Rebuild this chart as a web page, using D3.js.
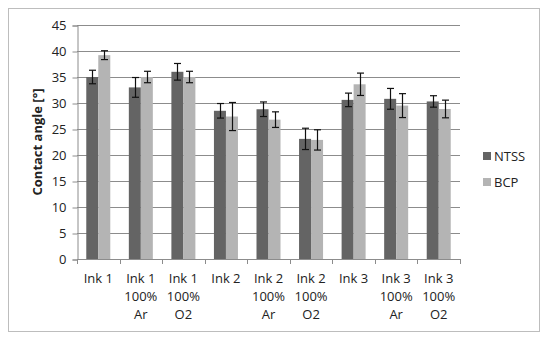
<!DOCTYPE html>
<html><head><meta charset="utf-8">
<script src="https://cdn.jsdelivr.net/npm/d3@7"></script>
<style>body{margin:0;background:#fff}svg{display:block}text{font-family:"Open Sans","Liberation Sans",sans-serif}</style>
</head><body><svg id="c" width="550" height="340"></svg>
<script>
const categories = [["Ink 1"],["Ink 1","100%","Ar"],["Ink 1","100%","O2"],["Ink 2"],["Ink 2","100%","Ar"],["Ink 2","100%","O2"],["Ink 3"],["Ink 3","100%","Ar"],["Ink 3","100%","O2"]];
const seriesNames = ["NTSS","BCP"];
const ntss = [35.0, 33.0, 36.0, 28.5, 28.8, 23.1, 30.6, 30.8, 30.3];
const ntssErr = [1.3, 1.9, 1.6, 1.4, 1.4, 2.05, 1.3, 2.0, 1.1];
const bcp = [39.2, 35.0, 35.0, 27.4, 26.8, 22.9, 33.6, 29.5, 28.85];
const bcpErr = [0.85, 1.1, 1.1, 2.7, 1.5, 1.95, 2.15, 2.3, 1.7];
const yTicks = [0,5,10,15,20,25,30,35,40,45];
const colors = ["#646464","#b4b4b4"];

const svg = d3.select("#c");
svg.append("rect").attr("x",8.5).attr("y",8.5).attr("width",531).attr("height",323)
  .attr("fill","#fff").attr("stroke","#bdbdbd").attr("stroke-width",1);

const L=77, R=460, T=25, B=259;
const x = d3.scaleBand().domain(d3.range(categories.length)).range([L,R]);
const y = d3.scaleLinear().domain([0,45]).range([B,T]);

// gridlines
svg.append("g").selectAll("line").data(yTicks.filter(d=>d>0)).join("line")
  .attr("x1",L).attr("x2",R).attr("y1",d=>Math.round(y(d))+0.5).attr("y2",d=>Math.round(y(d))+0.5)
  .attr("stroke","#8c8c8c").attr("stroke-width",1);

// y axis
const ya = svg.append("g").attr("transform",`translate(${L+0.5},0.5)`)
  .call(d3.axisLeft(y).tickValues(yTicks).tickSize(5).tickPadding(6));
ya.select(".domain").attr("stroke","#8c8c8c");
ya.selectAll("line").attr("stroke","#8c8c8c");
ya.selectAll("text").attr("font-size",13).attr("fill","#222");

// bars
const bw = 12;
const series = [{v:ntss,e:ntssErr},{v:bcp,e:bcpErr}];
series.forEach((s,si)=>{
  const g = svg.append("g");
  g.selectAll("rect").data(s.v).join("rect")
    .attr("x",(d,i)=>x(i)+x.bandwidth()/2 - bw + si*bw)
    .attr("y",d=>y(d)).attr("width",bw).attr("height",d=>B-y(d))
    .attr("fill",colors[si]);
});
// error bars
series.forEach((s,si)=>{
  const g = svg.append("g").attr("stroke","#111").attr("stroke-width",1.2);
  s.v.forEach((d,i)=>{
    const cx = Math.round(x(i)+x.bandwidth()/2 - bw/2 + si*bw)+0.5;
    const y1=y(d+s.e[i]), y2=y(d-s.e[i]);
    g.append("line").attr("x1",cx).attr("x2",cx).attr("y1",y1).attr("y2",y2);
    g.append("line").attr("x1",cx-3.5).attr("x2",cx+3.5).attr("y1",y1).attr("y2",y1);
    g.append("line").attr("x1",cx-3.5).attr("x2",cx+3.5).attr("y1",y2).attr("y2",y2);
  });
});

// x axis
svg.append("line").attr("x1",L).attr("x2",R).attr("y1",B+0.5).attr("y2",B+0.5).attr("stroke","#8c8c8c");
svg.append("g").selectAll("line").data(d3.range(categories.length+1)).join("line")
  .attr("x1",i=>Math.round(L+i*x.bandwidth())+0.5).attr("x2",i=>Math.round(L+i*x.bandwidth())+0.5)
  .attr("y1",B).attr("y2",B+5).attr("stroke","#8c8c8c");
const xl = svg.append("g");
categories.forEach((lines,i)=>{
  const t = xl.append("text").attr("x",x(i)+x.bandwidth()/2).attr("y",283)
    .attr("text-anchor","middle").attr("font-size",13).attr("fill","#222");
  lines.forEach((ln,j)=>t.append("tspan").attr("x",x(i)+x.bandwidth()/2).attr("dy",j?18:0).text(ln));
});

// y label
svg.append("text").attr("transform","translate(42,142) rotate(-90)").attr("text-anchor","middle")
  .attr("font-size",13).attr("font-weight","bold").attr("fill","#222").text("Contact angle [°]");

// legend
seriesNames.forEach((n,i)=>{
  const yy = 156 + i*26;
  svg.append("rect").attr("x",483).attr("y",yy-4).attr("width",8).attr("height",8).attr("fill",colors[i]);
  svg.append("text").attr("x",494).attr("y",yy+4.5).attr("font-size",13).attr("fill","#222").text(n);
});
</script></body></html>
